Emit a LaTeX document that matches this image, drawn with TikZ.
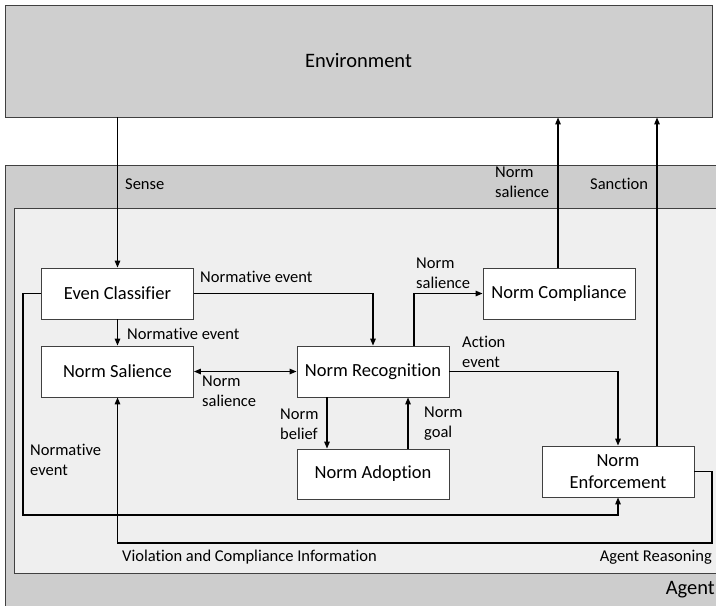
\documentclass[tikz,border=0pt]{standalone}
\usepackage{fontspec}
\setmainfont{Carlito}[Ligatures=NoCommon]
\usetikzlibrary{arrows.meta,positioning}
\definecolor{envgray}{HTML}{CFCFCF}
\definecolor{agentgray}{HTML}{CDCDCD}
\definecolor{innergray}{HTML}{EFEFEF}
\definecolor{edgegray}{HTML}{404040}
\begin{document}
\begin{tikzpicture}[x=1pt,y=-1pt,
  module/.style={draw=edgegray,line width=0.9pt,fill=white,inner sep=0pt,
    minimum width=152pt,minimum height=51pt,font=\fontsize{18.5}{22}\selectfont,align=center},
  flow/.style={line width=1.3pt,-{Triangle[length=7pt,width=5.5pt]}},
  flowboth/.style={line width=1.3pt,{Triangle[length=7pt,width=5.5pt]}-{Triangle[length=7pt,width=5.5pt]}},
  lbl/.style={font=\fontsize{16.5}{20}\selectfont,inner sep=0pt,align=left}]
\useasboundingbox (0,0) rectangle (716,606);
\clip (0,0) rectangle (716,606);

% Environment and agent frames
\node[draw=edgegray,line width=0.9pt,fill=envgray,minimum width=707pt,minimum height=112pt,
  inner sep=0pt,font=\fontsize{20.5}{24}\selectfont] (env) at (358.5,61) {Environment};
\draw[draw=edgegray,line width=0.9pt,fill=agentgray] (5,165) rectangle (740,640);
\draw[draw=edgegray,line width=0.9pt,fill=innergray] (14,208) rectangle (740,573);
\node[font=\fontsize{20.5}{24}\selectfont,anchor=east,inner sep=0pt] (agentlbl) at (715,590) {Agent};
\node[lbl,anchor=east] (reasonlbl) at (712,557) {Agent Reasoning};

% Modules
\node[module] (classifier) at (117.5,293.5) {Even Classifier};
\node[module] (salience) at (117.5,371.5) {Norm Salience};
\node[module] (recognition) at (373,371.5) {Norm Recognition};
\node[module] (compliance) at (559,293.5) {Norm Compliance};
\node[module,minimum height=50pt] (adoption) at (373,474) {Norm Adoption};
\node[module] (enforcement) at (618,471.5) {Norm\\Enforcement};

% Connectors
\draw[flow] (env.south -| classifier.north) -- (classifier.north);
\node[lbl,anchor=west] (senselbl) at (125,184) {Sense};

\draw[flow] (classifier.east) -- (classifier.east -| recognition.north) -- (recognition.north);
\node[lbl,anchor=west] (ne1) at (200,277) {Normative event};

\draw[flow] (classifier.south) -- (salience.north);
\node[lbl,anchor=west] (ne2) at (127,334) {Normative event};

\draw[flowboth] (salience.east) -- (recognition.west);
\node[lbl,anchor=west] (ns1) at (202,391) {Norm\\salience};

\coordinate (rtop) at ([xshift=41pt]recognition.north);
\draw[flow] (rtop) -- (rtop |- compliance.west) -- (compliance.west);
\node[lbl,anchor=west] (ns2) at (416,273) {Norm\\salience};

\coordinate (ctop) at ([xshift=-1pt]compliance.north);
\draw[flow] (ctop) -- (ctop |- env.south);
\node[lbl,anchor=west] (ns3) at (495,182) {Norm\\salience};

\coordinate (etop) at ([xshift=39pt]enforcement.north);
\draw[flow] (etop) -- (etop |- env.south);
\node[lbl,anchor=west] (sanctionlbl) at (590,184) {Sanction};

\draw[flow] (recognition.east) -- (recognition.east -| enforcement.north) -- (enforcement.north);
\node[lbl,anchor=west] (ae) at (462,351.5) {Action\\event};

\coordinate (rbl) at ([xshift=-46pt]recognition.south);
\draw[flow] (rbl) -- (rbl |- adoption.north);
\node[lbl,anchor=west] (nb) at (280,424) {Norm\\belief};

\coordinate (atop) at ([xshift=35pt]adoption.north);
\draw[flow] (atop) -- (atop |- recognition.south);
\node[lbl,anchor=west] (ng) at (424,424) {Norm\\goal};

\coordinate (loopa) at (23,515);
\draw[flow] (classifier.west) -- (classifier.west -| loopa) -- (loopa) -- (loopa -| enforcement.south) -- (enforcement.south);
\node[lbl,anchor=west] (ne3) at (30,460) {Normative\\event};

\coordinate (loopb) at (712,543);
\draw[flow] (enforcement.east) -- (enforcement.east -| loopb) -- (loopb) -- (loopb -| salience.south) -- (salience.south);
\node[lbl,anchor=west] (vci) at (122,557) {Violation and Compliance Information};
\end{tikzpicture}
\end{document}
